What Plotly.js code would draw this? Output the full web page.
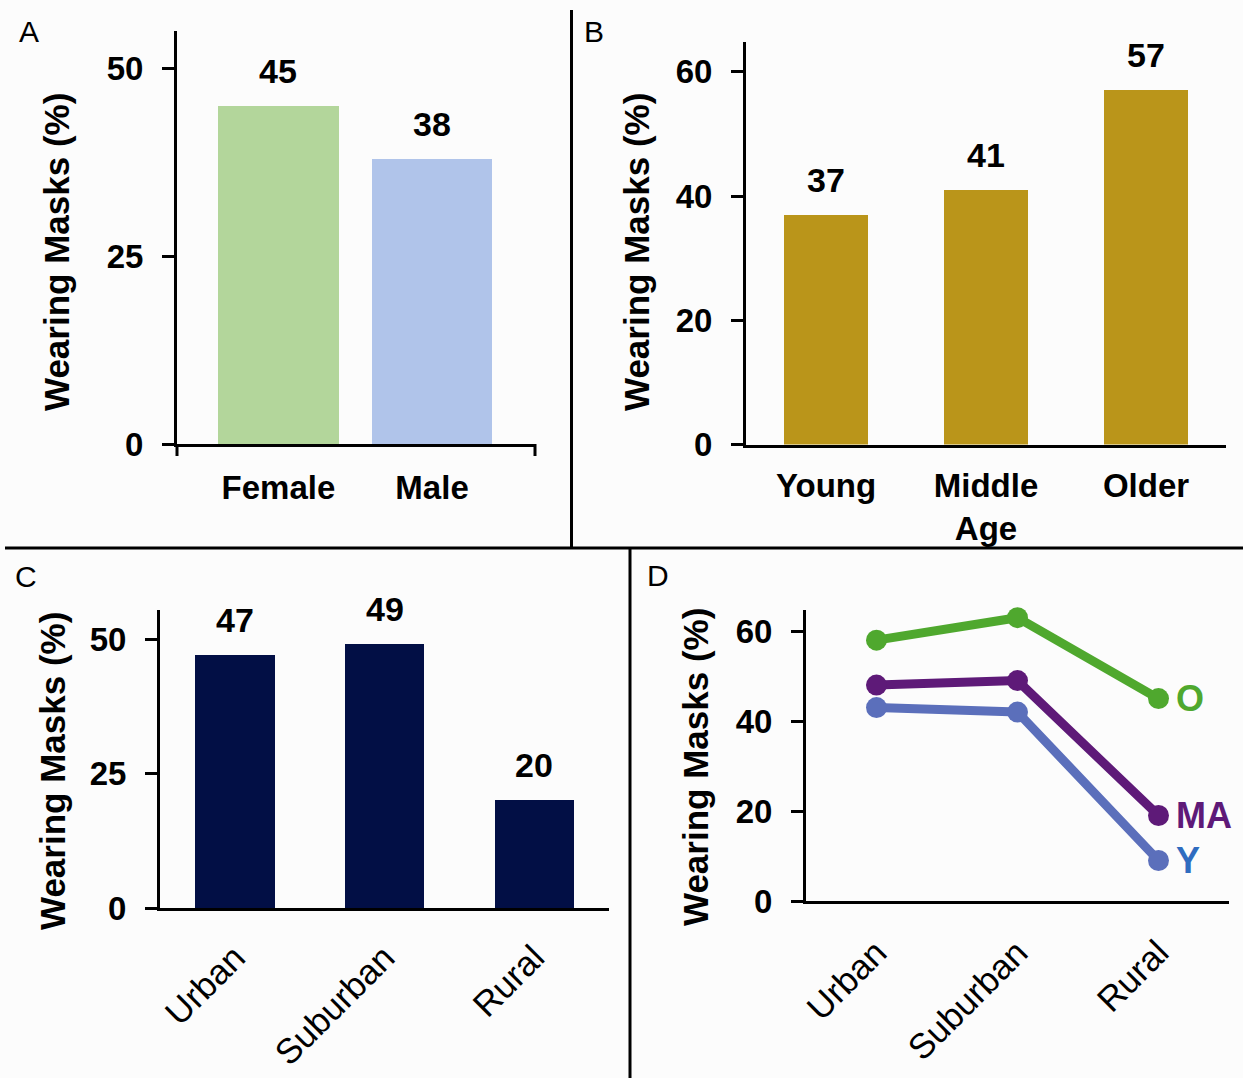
<!DOCTYPE html>
<html>
<head>
<meta charset="utf-8">
<script src="https://cdn.plot.ly/plotly-3.0.1.min.js"></script>
<style>html,body{margin:0;padding:0;background:#fcfcfc;}#chart{width:1243px;height:1078px;}</style>
</head>
<body>
<div id="chart"></div>
<script>
// ---- Data ----
const genderCats = ["Female", "Male"];
const genderVals = [45, 38];
const ageCats = ["Young", "Middle<br>Age", "Older"];
const ageVals = [37, 41, 57];
const areaCats = ["Urban", "Suburban", "Rural"];
const areaVals = [47, 49, 20];
const olderVals = [58, 63, 45];
const middleVals = [48, 49, 19];
const youngVals = [43, 42, 9];
const lineNames = ["O", "MA", "Y"];
const ticksA = [0, 25, 50];
const ticksB = [0, 20, 40, 60];
const ticksC = [0, 25, 50];
const ticksD = [0, 20, 40, 60];
const yTitle = "Wearing Masks (%)";
const panelLetters = ["A", "B", "C", "D"];

// ---- Layout helpers ----
const W = 1243, H = 1078;
const px = x => x / W;
const py = y => 1 - y / H;
const FONT = "'Liberation Sans', Arial, Helvetica, sans-serif";
const boldF = (s, c) => ({family: FONT, size: s, color: c || "#000", weight: "bold"});
const regF = (s, c) => ({family: FONT, size: s, color: c || "#000"});

const green = "#4fa82e", purple = "#5e1a78", blue = "#5b6fbb";

const traces = [
  {type: "bar", x: genderCats, y: genderVals, xaxis: "x", yaxis: "y",
   marker: {color: ["#b3d69b", "#b0c4ea"]}, width: 0.786},
  {type: "bar", x: ageCats, y: ageVals, xaxis: "x2", yaxis: "y2",
   marker: {color: "#ba951a"}, width: 0.53},
  {type: "bar", x: areaCats, y: areaVals, xaxis: "x3", yaxis: "y3",
   marker: {color: "#020f45"}, width: 0.53},
  {type: "scatter", mode: "lines+markers", x: areaCats, y: olderVals, name: lineNames[0], xaxis: "x4", yaxis: "y4",
   line: {color: green, width: 9}, marker: {color: green, size: 21}, cliponaxis: false},
  {type: "scatter", mode: "lines+markers", x: areaCats, y: middleVals, name: lineNames[1], xaxis: "x4", yaxis: "y4",
   line: {color: purple, width: 9}, marker: {color: purple, size: 21}, cliponaxis: false},
  {type: "scatter", mode: "lines+markers", x: areaCats, y: youngVals, name: lineNames[2], xaxis: "x4", yaxis: "y4",
   line: {color: blue, width: 9}, marker: {color: blue, size: 21}, cliponaxis: false}
];

function yax(domain, range, tv) {
  return {domain: domain, range: range, tickvals: tv, showline: true, linecolor: "#000", linewidth: 3,
    ticks: "outside", ticklen: 12, tickwidth: 3, tickcolor: "#000", showgrid: false, zeroline: false,
    tickfont: boldF(33), ticklabelstandoff: 12, fixedrange: true};
}
function xax(domain, range, anchor, opts) {
  return Object.assign({domain: domain, range: range, anchor: anchor, type: "category", showline: true,
    linecolor: "#000", linewidth: 3, ticks: "", showgrid: false, zeroline: false,
    tickfont: boldF(33), fixedrange: true}, opts || {});
}

const layout = {
  width: W, height: H, margin: {l: 0, r: 0, t: 0, b: 0},
  paper_bgcolor: "#fcfcfc", plot_bgcolor: "rgba(0,0,0,0)", showlegend: false, bargap: 0,
  xaxis: xax([px(177), px(535)], [-0.66, 1.67], "y", {ticklabelstandoff: 12}),
  yaxis: yax([py(444), py(31)], [0, 55], ticksA),
  xaxis2: xax([px(746), px(1226)], [-0.5, 2.5], "y2", {ticklabelstandoff: 10}),
  yaxis2: Object.assign(yax([py(444.6), py(42)], [0, 64.8], ticksB), {anchor: "x2"}),
  xaxis3: xax([px(160), px(609)], [-0.5, 2.5], "y3", {tickangle: -45, tickfont: regF(35), ticklabelstandoff: 12}),
  yaxis3: Object.assign(yax([py(908), py(610)], [0, 55.4], ticksC), {anchor: "x3"}),
  xaxis4: xax([px(806), px(1229)], [-0.5, 2.5], "y4", {tickangle: -45, tickfont: regF(35), ticklabelstandoff: 14}),
  yaxis4: Object.assign(yax([py(901), py(610)], [0, 64.7], ticksD), {anchor: "x4"}),
  shapes: [
    {type: "line", xref: "paper", yref: "paper", x0: px(571.5), x1: px(571.5), y0: py(548), y1: py(10), line: {color: "#000", width: 3}},
    {type: "line", xref: "paper", yref: "paper", x0: px(5), x1: 1, y0: py(548), y1: py(548), line: {color: "#000", width: 3}},
    {type: "line", xref: "paper", yref: "paper", x0: px(630), x1: px(630), y0: py(548), y1: 0, line: {color: "#000", width: 3}},
    {type: "line", xref: "paper", yref: "paper", x0: px(177), x1: px(177), y0: py(444), y1: py(456), line: {color: "#000", width: 3}},
    {type: "line", xref: "paper", yref: "paper", x0: px(535), x1: px(535), y0: py(444), y1: py(456), line: {color: "#000", width: 3}}
  ],
  annotations: []
};

// Panel letters
const letterPos = [[17, 31], [582, 31], [13, 576], [645, 575]];
panelLetters.forEach((l, i) => layout.annotations.push({
  text: l, xref: "paper", yref: "paper", x: px(letterPos[i][0]), y: py(letterPos[i][1]),
  xanchor: "left", yanchor: "middle", showarrow: false, font: regF(30)
}));

// Y titles
const titlePos = [[57, 252], [637, 252], [52, 771], [695, 767]];
titlePos.forEach(p => layout.annotations.push({
  text: yTitle, xref: "paper", yref: "paper", x: px(p[0]), y: py(p[1]), textangle: -90,
  xanchor: "center", yanchor: "middle", showarrow: false, font: boldF(35)
}));

// Bar value labels
function barLabels(cats, vals, xr, yr) {
  cats.forEach((c, i) => layout.annotations.push({
    text: String(vals[i]), x: c, y: vals[i], xref: xr, yref: yr, xanchor: "center", yanchor: "bottom",
    yshift: 14, showarrow: false, font: boldF(34)
  }));
}
barLabels(genderCats, genderVals, "x", "y");
barLabels(ageCats, ageVals, "x2", "y2");
barLabels(areaCats, areaVals, "x3", "y3");

// Line end labels
const lineSeries = [olderVals, middleVals, youngVals];
const labelColors = [green, purple, "#2f6cc0"];
const last = areaCats.length - 1;
lineSeries.forEach((s, i) => layout.annotations.push({
  text: lineNames[i], x: areaCats[last], y: s[last], xref: "x4", yref: "y4", xanchor: "left", yanchor: "middle",
  xshift: 15, showarrow: false, font: boldF(36, labelColors[i])
}));

Plotly.newPlot("chart", traces, layout, {displayModeBar: false, staticPlot: true});
</script>
</body>
</html>
